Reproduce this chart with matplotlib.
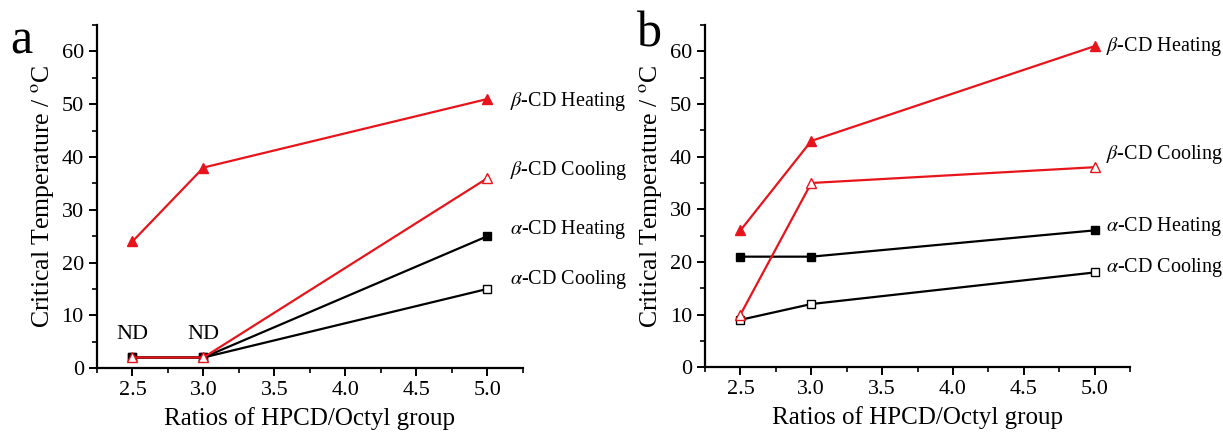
import numpy as np
import matplotlib.pyplot as plt
from matplotlib.ticker import MultipleLocator

plt.rcParams['font.family'] = ['Liberation Serif', 'DejaVu Serif']
plt.rcParams['mathtext.fontset'] = 'stix'

# donnees
ratios = [2.5, 3.0, 5.0]

# panneau a (ND = non detecte, trace a 2)
a_beta_heat = [24, 38, 51]
a_beta_cool = [2, 2, 36]
a_alpha_heat = [2, 2, 25]
a_alpha_cool = [2, 2, 15]

# panneau b
b_beta_heat = [26, 43, 61]
b_beta_cool = [10, 35, 38]
b_alpha_heat = [21, 21, 26]
b_alpha_cool = [9, 12, 18]

noms = [r"$\beta$-CD Heating", r"$\beta$-CD Cooling",
        r"$\alpha$-CD Heating", r"$\alpha$-CD Cooling"]
pos_a = [50.5, 37.5, 26.3, 16.8]
pos_b = [61.0, 40.4, 26.7, 19.0]

fig = plt.figure(figsize=(12.23, 4.33), dpi=100)
axa = fig.add_axes([0.0793, 0.150, 0.3483, 0.792])
axb = fig.add_axes([0.5765, 0.152, 0.3475, 0.790])


def trace(ax, bh, bc, ah, ac, pos, xlab):
    ax.plot(ratios, ac, 'k-', marker='s', mfc='white', mec='k', ms=6, lw=1.6)
    ax.plot(ratios, ah, 'k-', marker='s', mfc='k', mec='k', ms=6, lw=1.6)
    ax.plot(ratios, bc, '-', color='#e8141b', marker='^', mfc='white',
            mec='#e8141b', ms=7.5, lw=1.6)
    ax.plot(ratios, bh, '-', color='#e8141b', marker='^', mfc='#e8141b',
            mec='#e8141b', ms=7.5, lw=1.6)
    ax.set_xlim(2.25, 5.25)
    ax.set_ylim(0, 65)
    ax.xaxis.set_minor_locator(MultipleLocator(0.25))
    ax.yaxis.set_minor_locator(MultipleLocator(5))
    ax.spines['top'].set_visible(False)
    ax.spines['right'].set_visible(False)
    ax.spines['left'].set_linewidth(1.6)
    ax.spines['bottom'].set_linewidth(1.6)
    ax.tick_params(which='major', direction='out', length=6, width=1.4,
                   labelsize=16)
    ax.tick_params(which='minor', direction='out', length=3.5, width=1.2)
    ax.set_xticks([2.5, 3.0, 3.5, 4.0, 4.5, 5.0])
    ax.set_xticklabels(["2.5", "3.0", "3.5", "4.0", "4.5", "5.0"],
                       family='Liberation Serif')
    ax.set_yticks([0, 10, 20, 30, 40, 50, 60])
    ax.set_yticklabels(["0", "10", "20", "30", "40", "50", "60"],
                       family='Liberation Serif')
    ax.set_xlabel("Ratios of HPCD/Octyl group", fontsize=18, labelpad=5)
    ax.set_ylabel(r"Critical Temperature / $^{\rm o}$C", fontsize=18.5,
                  labelpad=4)
    for nom, y in zip(noms, pos):
        ax.text(xlab, y, nom, fontsize=14.5, va='center', ha='left',
                clip_on=False)


trace(axa, a_beta_heat, a_beta_cool, a_alpha_heat, a_alpha_cool, pos_a, 5.16)
trace(axb, b_beta_heat, b_beta_cool, b_alpha_heat, b_alpha_cool, pos_b, 5.08)

axa.text(2.5, 6.4, "ND", fontsize=16, ha='center', va='center')
axa.text(3.0, 6.4, "ND", fontsize=16, ha='center', va='center')

fig.text(0.008, 0.905, "a", fontsize=36, va='center')
fig.text(0.521, 0.92, "b", fontsize=36, va='center')

fig.savefig("out.png", dpi=100)
